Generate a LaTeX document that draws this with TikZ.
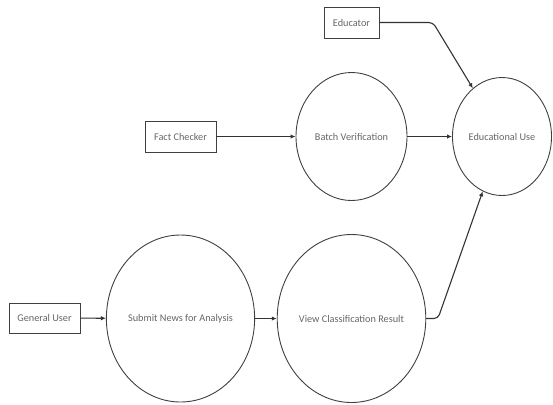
\documentclass[tikz,border=0pt]{standalone}
\usepackage{fontspec}
\setmainfont{Carlito}
\usetikzlibrary{shapes.geometric,arrows.meta}
\begin{document}
\begin{tikzpicture}[x=1bp,y=-1bp,
  every node/.style={font=\fontsize{10.3}{12}\selectfont, text=black!60},
  actor/.style={draw=black!75, line width=0.9bp, rectangle, inner sep=0pt},
  proc/.style={draw=black!75, line width=0.9bp, ellipse, inner sep=0pt},
  flow/.style={draw=black!80, line width=1.1bp, -{Latex[length=5bp,width=4.5bp]}, rounded corners=4bp}]
\useasboundingbox (0,0) rectangle (553,404);
\node[actor, minimum width=55bp, minimum height=31bp] (edu) at (351.5,22.5) {Educator};
\node[actor, minimum width=71bp, minimum height=31bp] (fc) at (180.5,136.5) {Fact Checker};
\node[actor, minimum width=71bp, minimum height=30bp] (gu) at (44.5,318) {General User};
\node[proc, minimum width=111bp, minimum height=128bp] (bv) at (351.5,136.5) {Batch Verification};
\node[proc, minimum width=99bp, minimum height=118bp] (eu) at (502,136.5) {Educational Use};
\node[proc, minimum width=141bp, minimum height=167bp] (sn) at (180.5,318.5) {Submit News for Analysis};
\node[proc, minimum width=145bp, minimum height=168bp] (vc) at (351.5,318.5) {View Classification Result};
\coordinate (c1) at (433,22.5);
\coordinate (c2) at (438,318.5);
\draw[flow] (edu.east) -- (c1) -- (eu);
\draw[flow] (fc) -- (bv);
\draw[flow] (bv) -- (eu);
\draw[flow] (gu) -- (sn);
\draw[flow] (sn) -- (vc);
\draw[flow] (vc.east) -- (c2) -- (eu);
\end{tikzpicture}
\end{document}
